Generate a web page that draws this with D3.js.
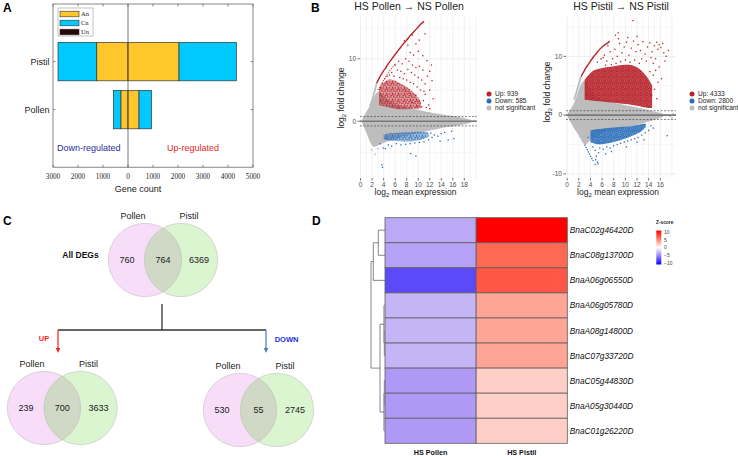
<!DOCTYPE html>
<html><head><meta charset="utf-8">
<script src="https://cdn.jsdelivr.net/npm/d3@7"></script>
<style>body{margin:0;background:#fff}svg{display:block;font-family:Arial,"Liberation Sans",sans-serif}</style>
</head><body><svg id="c" width="738" height="456"></svg>
<script>
// ================= DATA =================
// Panel A
const aCategories = ["Pistil", "Pollen"];
const aUpAn = [2040, 440];
const aUpCn = [2293, 499];
const aDownAn = [1250, 280];
const aDownCn = [1550, 305];
const aTicks = [-3000, -2000, -1000, 0, 1000, 2000, 3000, 4000, 5000];
const aLegend = ["An", "Cn", "Un"];

// Panel B  (x = log2 mean expression, y = log2 fold change)
const bTitles = ["HS Pollen \u2192 NS Pollen", "HS Pistil \u2192 NS Pistil"];
const bLegendPollen = ["Up: 939", "Down: 585", "not significant"];
const bLegendPistil = ["Up: 4333", "Down: 2800", "not significant"];
const bXTicksPollen = [0, 2, 4, 6, 8, 10, 12, 14, 16, 18];
const bXTicksPistil = [0, 2, 4, 6, 8, 10, 12, 14, 16];
const bYTicksPollen = [0, 10];
const bYTicksPistil = [-10, 0, 10];
// gray cloud envelope: [x, top, bottom]
const pollenGray = [[0.3,0.4,-0.4],[0.7,1.0,-1.2],[1.2,1.8,-2.2],[1.7,2.6,-3.6],[2.2,3.6,-4.2],[2.7,4.6,-4.0],[3.2,4.8,-3.8],[3.7,4.4,-3.6],[4.5,3.6,-3.3],[5.5,3.0,-3.0],[6.5,2.6,-2.7],[7.5,2.3,-2.4],[8.5,2.1,-2.2],[9.5,1.9,-2.0],[10.5,1.7,-1.8],[11.5,1.5,-1.6],[12.5,1.3,-1.4],[13.5,1.2,-1.2],[14.5,1.0,-1.0],[15.5,0.9,-0.9],[16.5,0.8,-0.8],[17.5,0.6,-0.6],[18.5,0.4,-0.4],[19.2,0.2,-0.2]];
const pollenGrayCurve = [[1.6,2.4],[1.9,3.1],[2.2,4.0],[2.5,5.0],[2.8,6.1]];
const pollenGrayPts = [[2.5,-5.3],[1.9,-4.6],[3.0,-4.4],[19.6,0.1]];
const pollenRedCurve = [[2.8,6.1],[3.0,6.5],[3.3,7.0],[3.6,7.5],[4.0,8.1],[4.4,8.6],[4.8,9.2],[5.2,9.7],[5.6,10.2],[6.0,10.7],[6.5,11.3],[7.0,11.9],[7.5,12.5],[8.0,13.0],[8.5,13.6],[9.0,14.1],[9.5,14.6],[10.0,15.1],[10.5,15.6],[11.0,16.0]];
const pollenRedCurve2 = [[3.0,5.0],[3.4,5.6],[3.8,6.3],[4.2,6.9],[4.6,7.5],[5.0,8.0],[5.5,8.6],[6.0,9.2]];
const pollenRedCore = [[3.2,5.2,2.6],[4.0,6.3,2.4],[5.0,6.8,2.2],[6.0,6.5,2.0],[7.0,6.0,1.9],[8.0,5.5,1.9],[9.0,4.8,2.0],[10.0,3.8,2.0],[10.5,3.0,2.1]];
const pollenRedPts = [[7.6,12.9],[8.2,12.2],[9.0,13.8],[9.6,12.4],[10.2,13.0],[11.2,14.0],[8.6,11.0],[9.2,10.6],[10.0,11.2],[10.8,10.5],[11.5,9.7],[12.3,9.0],[12.0,8.0],[11.6,7.2],[12.4,6.5],[12.0,5.0],[11.2,4.3],[12.6,3.6],[11.8,2.6],[10.9,3.3],[6.0,9.0],[6.6,9.6],[7.2,9.2],[7.8,10.0],[8.4,9.6],[9.0,9.0],[9.6,8.6],[10.2,8.8],[10.8,8.2],[6.4,8.2],[7.0,8.0],[7.6,7.6],[8.2,8.3],[8.8,7.8],[9.4,7.4],[10.0,7.0],[10.6,6.6],[11.2,6.0],[5.4,7.8],[5.8,7.2],[6.8,7.0],[7.4,6.8],[8.0,6.6],[8.6,6.2],[9.2,6.0],[9.8,5.5],[10.4,5.0],[11.0,4.8],[4.6,7.2],[4.2,6.8],[3.8,6.0],[3.5,5.4],[5.0,7.4],[9.6,4.2],[10.2,3.2],[9.0,3.0],[8.4,4.5],[7.8,4.8],[10.6,2.3],[11.4,2.2],[12.0,2.0],[9.8,2.4]];
const pollenBlueCore = [[4.0,-2.1,-2.9],[5.0,-1.9,-3.1],[6.0,-1.9,-3.2],[7.0,-1.8,-3.2],[8.0,-1.8,-3.3],[9.0,-1.7,-3.2],[10.0,-1.7,-3.1],[11.0,-1.7,-2.8],[11.8,-1.8,-2.5]];
const pollenBluePts = [[3.4,-3.6],[3.9,-4.3],[4.3,-4.4],[4.8,-3.8],[5.4,-4.0],[6.2,-3.6],[7.0,-3.8],[7.8,-3.7],[8.6,-3.6],[9.4,-3.5],[10.2,-3.4],[11.0,-3.3],[11.8,-3.0],[12.4,-2.6],[12.8,-2.2],[13.4,-2.4],[14.0,-2.0],[14.6,-1.8],[15.2,-3.0],[15.8,-1.6],[16.2,-2.8],[13.8,-3.2],[3.7,-7.0],[3.8,-7.4],[9.6,-5.6],[8.7,-5.2],[4.5,-2.8],[12.2,-1.9]];

const pistilGray = [[0.1,0.3,-0.3],[0.5,0.9,-1.1],[1.0,1.6,-1.9],[1.5,2.8,-2.8],[2.0,4.4,-3.4],[2.5,5.6,-4.4],[3.0,6.0,-5.2],[3.5,5.4,-4.8],[4.0,4.2,-4.2],[5.0,3.0,-3.6],[6.0,2.6,-3.0],[7.0,2.3,-2.7],[8.0,2.1,-2.5],[9.0,1.9,-2.3],[10.0,1.7,-2.1],[11.0,1.5,-1.9],[12.0,1.3,-1.6],[13.0,1.1,-1.4],[14.0,0.9,-1.1],[15.0,0.6,-0.8],[16.0,0.4,-0.5],[16.5,0.2,-0.3]];
const pistilGrayCurve = [[1.2,2.6],[1.5,3.6],[1.8,4.6],[2.1,5.6],[2.4,6.6]];
const pistilGrayPts = [[17.0,0.1],[17.6,-0.2],[18.2,0.2],[18.0,-0.4],[2.2,-3.6],[2.6,-4.3]];
const pistilRedCurve = [[2.4,6.6],[2.8,7.3],[3.2,8.0],[3.6,8.6],[4.0,9.2],[4.5,9.9],[5.0,10.5],[5.5,11.1],[6.0,11.6],[6.5,12.0],[7.0,12.3],[7.3,12.6]];
const pistilRedCore = [[3.0,6.0,2.6],[4.0,7.3,2.5],[5.0,7.8,2.4],[6.0,8.0,2.3],[7.0,8.2,2.2],[8.0,8.3,2.1],[9.0,8.5,2.0],[10.0,8.6,1.9],[11.0,8.6,1.8],[12.0,8.2,1.6],[13.0,7.4,1.4],[14.0,6.2,1.2],[14.6,5.0,1.2]];
const pistilRedPts = [[5.2,9.0],[5.8,9.6],[6.4,10.2],[6.8,9.2],[7.4,10.8],[7.8,9.6],[8.2,11.2],[8.6,10.0],[9.0,12.2],[9.4,10.6],[9.8,11.6],[10.2,12.4],[10.6,10.2],[11.0,11.4],[11.4,12.6],[11.8,10.8],[12.2,12.0],[12.6,11.0],[13.0,12.5],[13.4,10.4],[13.8,11.6],[14.2,12.3],[14.6,10.8],[15.0,11.8],[15.4,12.4],[15.8,12.0],[16.1,11.5],[16.4,12.2],[15.6,11.2],[16.6,10.6],[17.0,10.0],[17.4,11.0],[16.8,9.2],[15.2,9.6],[14.8,8.8],[14.4,9.8],[13.6,9.2],[12.8,9.6],[12.4,8.8],[11.6,9.4],[10.8,9.0],[10.0,9.4],[9.2,9.1],[8.4,8.8],[7.6,8.6],[6.6,8.5],[14.2,7.4],[14.8,6.8],[15.2,7.6],[15.6,5.6],[15.0,4.4],[15.8,8.2],[16.2,6.2],[14.5,3.4],[15.4,2.8],[13.6,2.0],[7.0,11.8],[6.2,9.8],[10.4,13.2],[12.0,13.4],[8.8,13.0],[11.3,16.1],[8.3,13.6],[8.75,14.0]];
const pistilBlueCore = [[4.0,-2.6,-4.6],[5.0,-2.4,-5.0],[6.0,-2.3,-5.0],[7.0,-2.2,-4.8],[8.0,-2.1,-4.6],[9.0,-2.0,-4.3],[10.0,-2.0,-4.0],[11.0,-1.9,-3.6],[12.0,-1.7,-3.2],[13.0,-1.5,-2.6],[13.5,-1.4,-2.0]];
const pistilBlueCurve = [[3.0,-5.0],[3.3,-5.6],[3.6,-6.2],[3.9,-6.8],[4.2,-7.3],[4.5,-7.8]];
const pistilBluePts = [[3.6,-3.8],[4.4,-5.4],[4.8,-6.0],[5.0,-7.0],[5.4,-6.4],[5.2,-8.0],[4.8,-8.4],[5.6,-5.6],[6.2,-5.8],[6.8,-5.4],[7.4,-5.6],[8.0,-5.2],[8.6,-5.0],[9.2,-4.8],[9.8,-4.6],[10.4,-4.4],[11.0,-4.2],[11.6,-4.0],[12.2,-3.8],[12.8,-3.4],[13.4,-3.0],[14.0,-2.6],[14.4,-1.8],[14.8,-2.2],[13.2,-4.2],[12.0,-4.6],[10.2,-5.4],[17.2,-3.5],[6.6,-6.6],[7.6,-6.2],[5.3,-8.3],[4.9,-7.6]];

// Panel C (Venn)
const vennTitles = ["All DEGs", "UP", "DOWN"];
const vennSetNames = ["Pollen", "Pistil"];
const vennPollenOnly = [760, 239, 530];
const vennShared = [764, 700, 55];
const vennPistilOnly = [6369, 3633, 2745];

// Panel D (heatmap)
const hmGenes = ["BnaC02g46420D","BnaC08g13700D","BnaA06g06550D","BnaA06g05780D","BnaA08g14800D","BnaC07g33720D","BnaC05g44830D","BnaA05g30440D","BnaC01g26220D"];
const hmSamples = ["HS Pollen", "HS Pistil"];
const hmPollen = [-3.4, -3.7, -7.1, -2.9, -2.9, -2.9, -4.0, -4.0, -4.0];
const hmPistil = [10, 5.7, 6.5, 3.4, 3.4, 3.4, 1.8, 1.8, 1.8];
const hmLegendTicks = [10, 5, 0, -5, -10];
// dendrogram merges: [left node, right node, height]; leaves 0-8, merges numbered from 9
const hmMerges = [[0,1,6.7],[9,2,11.7],[4,5,0.6],[3,11,1.0],[6,7,0.6],[13,8,1.0],[12,14,5.0],[10,15,14.0]];

// ================= DRAW =================
const svg = d3.select("#c");
const defs = svg.append("defs");
const txt = (g, x, y, s, size, opts = {}) => {
  const t = g.append("text").attr("x", x).attr("y", y).text(s).attr("font-size", size)
    .attr("fill", opts.fill || "#222").attr("text-anchor", opts.anchor || "start");
  if (opts.weight) t.attr("font-weight", opts.weight);
  if (opts.family) t.attr("font-family", opts.family);
  if (opts.style) t.attr("font-style", opts.style);
  return t;
};
[["A",3,12],["B",311,12],["C",3,225],["D",312,225]].forEach(d => txt(svg, d[1], d[2], d[0], 12, {weight:"bold", fill:"#000"}));

// ---------- Panel A ----------
(function () {
  const g = svg.append("g");
  const x = d3.scaleLinear().domain([-3000, 5000]).range([53, 253]);
  const y = d3.scaleLinear().domain([-1.2, 2.2]).range([4, 167.2]);
  const col = { An: "#ffc72c", Cn: "#00c9ff", Un: "#2a0505" };
  aCategories.forEach((c, i) => {
    const segs = [
      [-(aDownAn[i] + aDownCn[i]), -aDownAn[i], col.Cn],
      [-aDownAn[i], 0, col.An],
      [0, aUpAn[i], col.An],
      [aUpAn[i], aUpAn[i] + aUpCn[i], col.Cn]];
    segs.forEach(s => g.append("rect").attr("x", x(s[0])).attr("width", x(s[1]) - x(s[0]))
      .attr("y", y(i - 0.4)).attr("height", y(i + 0.4) - y(i - 0.4))
      .attr("fill", s[2]).attr("stroke", "#333").attr("stroke-width", 0.7));
    [x.range()[0], x.range()[1]].forEach((px, k) => g.append("line").attr("x1", px).attr("x2", px + (k ? -2.5 : 2.5))
      .attr("y1", y(i)).attr("y2", y(i)).attr("stroke", "#444").attr("stroke-width", 0.6));
    txt(g, 49.5, y(i) + 3.2, c, 9, { anchor: "end" });
  });
  g.append("line").attr("x1", x(0)).attr("x2", x(0)).attr("y1", 4).attr("y2", 167.2).attr("stroke", "#555").attr("stroke-width", 0.8);
  g.append("rect").attr("x", 53).attr("y", 4).attr("width", 200).attr("height", 163.2).attr("fill", "none").attr("stroke", "#555").attr("stroke-width", 0.7);
  aTicks.forEach(t => {
    g.append("line").attr("x1", x(t)).attr("x2", x(t)).attr("y1", 167.2).attr("y2", 164.7).attr("stroke", "#444").attr("stroke-width", 0.6);
    g.append("line").attr("x1", x(t)).attr("x2", x(t)).attr("y1", 4).attr("y2", 6.5).attr("stroke", "#444").attr("stroke-width", 0.6);
    txt(g, x(t), 179, Math.abs(t), 7.2, { anchor: "middle", family: "'Liberation Serif','Times New Roman',serif" });
  });
  txt(g, 138, 192, "Gene count", 9, { anchor: "middle" });
  txt(g, 57, 151, "Down-regulated", 9, { fill: "#2b2b96" });
  txt(g, 167, 151, "Up-regulated", 9, { fill: "#e41f26" });
  g.append("rect").attr("x", 58).attr("y", 8).attr("width", 35).attr("height", 28).attr("fill", "#fff").attr("stroke", "#999").attr("stroke-width", 0.6);
  aLegend.forEach((k, i) => {
    const cy = 14 + i * 9;
    g.append("rect").attr("x", 60).attr("y", cy - 2.8).attr("width", 19).attr("height", 5.6).attr("fill", col[k]).attr("stroke", "#333").attr("stroke-width", 0.6);
    txt(g, 81, cy + 2.3, k, 6.5, { family: "'Liberation Serif','Times New Roman',serif" });
  });
})();

// ---------- Panel B ----------
const RED = "#b8232b", BLUE = "#2a6ebb", GRAY = "#bdbdbd";
function speckle(id, color, bgOpacity, size, dots) {
  const p = defs.append("pattern").attr("id", id).attr("patternUnits", "userSpaceOnUse").attr("width", size).attr("height", size);
  p.append("rect").attr("width", size).attr("height", size).attr("fill", color).attr("opacity", bgOpacity);
  dots.forEach(d => p.append("rect").attr("x", d[0]).attr("y", d[1]).attr("width", 1.3).attr("height", 1.3).attr("fill", color));
}
const sparseDots = [[0.3,0.5],[3.1,0.2],[1.8,2.6],[4.6,3.3],[0.6,4.8],[3.3,5.5],[5.4,0.9],[2.2,4.2]];
const denseDots = [[0.2,0.3],[2.3,0.1],[4.1,0.8],[1.1,2.1],[3.2,2.4],[0.1,4.0],[2.0,3.9],[4.3,3.2],[1.4,5.4],[3.6,4.8],[5.2,2.0],[5.0,5.1]];
speckle("redSparse", RED, 0.45, 6, sparseDots);
speckle("redDense", RED, 0.8, 6, denseDots);
speckle("blueSparse", BLUE, 0.45, 6, sparseDots);
speckle("blueDense", BLUE, 0.75, 6, denseDots);

function drawMA(cfg) {
  const g = svg.append("g");
  const x = d3.scaleLinear().domain(cfg.xDom).range(cfg.xRange);
  const y = d3.scaleLinear().domain(cfg.yDom).range([178, 17]);
  const id = "clip" + cfg.id;
  defs.append("clipPath").attr("id", id).append("rect").attr("x", cfg.xRange[0]).attr("y", 17)
    .attr("width", cfg.xRange[1] - cfg.xRange[0]).attr("height", 161);
  const p = g.append("g").attr("clip-path", `url(#${id})`);
  for (let i = Math.ceil(cfg.xDom[0]); i <= Math.floor(cfg.xDom[1]); i++)
    p.append("line").attr("x1", x(i)).attr("x2", x(i)).attr("y1", 17).attr("y2", 178)
      .attr("stroke", i % 2 === 0 ? "#e4e4e4" : "#f1f1f1").attr("stroke-width", 0.6);
  for (let j = Math.ceil(cfg.yDom[0] / 5) * 5; j <= cfg.yDom[1]; j += 5)
    p.append("line").attr("x1", cfg.xRange[0]).attr("x2", cfg.xRange[1]).attr("y1", y(j)).attr("y2", y(j))
      .attr("stroke", j % 10 === 0 ? "#e4e4e4" : "#f1f1f1").attr("stroke-width", 0.6);
  const area = d3.area().x(d => x(d[0])).y1(d => y(d[1])).y0(d => y(d[2])).curve(d3.curveBasis);
  const line = d3.line().x(d => x(d[0])).y(d => y(d[1])).curve(d3.curveMonotoneX);
  p.append("path").attr("d", area(cfg.gray)).attr("fill", GRAY);
  p.append("path").attr("d", line(cfg.grayCurve)).attr("fill", "none").attr("stroke", GRAY).attr("stroke-width", 1.8);
  p.selectAll(null).data(cfg.grayPts).join("circle").attr("cx", d => x(d[0])).attr("cy", d => y(d[1])).attr("r", 0.9).attr("fill", GRAY);
  p.append("path").attr("d", area(cfg.redCore)).attr("fill", `url(#${cfg.redFill})`);
  p.append("path").attr("d", area(cfg.blueCore)).attr("fill", `url(#${cfg.blueFill})`);
  p.append("path").attr("d", line(cfg.redCurve)).attr("fill", "none").attr("stroke", RED).attr("stroke-width", 1.4);
  if (cfg.redCurve2) p.append("path").attr("d", line(cfg.redCurve2)).attr("fill", "none").attr("stroke", RED).attr("stroke-width", 0.9).attr("stroke-dasharray", "1.5,1");
  if (cfg.blueCurve) p.append("path").attr("d", line(cfg.blueCurve)).attr("fill", "none").attr("stroke", BLUE).attr("stroke-width", 1.2).attr("stroke-dasharray", "1.5,1");
  p.selectAll(null).data(cfg.redPts).join("rect").attr("x", d => x(d[0]) - 0.65).attr("y", d => y(d[1]) - 0.65).attr("width", 1.3).attr("height", 1.3).attr("fill", RED);
  p.selectAll(null).data(cfg.bluePts).join("rect").attr("x", d => x(d[0]) - 0.65).attr("y", d => y(d[1]) - 0.65).attr("width", 1.3).attr("height", 1.3).attr("fill", BLUE);
  p.append("line").attr("x1", cfg.xRange[0]).attr("x2", cfg.xRange[1]).attr("y1", y(0)).attr("y2", y(0)).attr("stroke", "#7a7a7a").attr("stroke-width", 1.6);
  [-0.75, 0.75].forEach(v => p.append("line").attr("x1", cfg.xRange[0]).attr("x2", cfg.xRange[1]).attr("y1", y(v)).attr("y2", y(v))
    .attr("stroke", "#333").attr("stroke-width", 0.6).attr("stroke-dasharray", "2,1.5"));
  cfg.yTicks.forEach(t => {
    g.append("line").attr("x1", cfg.xRange[0] - 2.5).attr("x2", cfg.xRange[0]).attr("y1", y(t)).attr("y2", y(t)).attr("stroke", "#333").attr("stroke-width", 0.7);
    txt(g, cfg.xRange[0] - 4, y(t) + 2.3, t, 6.5, { anchor: "end", fill: "#4d4d4d" });
  });
  cfg.xTicks.forEach(t => {
    g.append("line").attr("x1", x(t)).attr("x2", x(t)).attr("y1", 178).attr("y2", 180.5).attr("stroke", "#333").attr("stroke-width", 0.7);
    txt(g, x(t), 187, t, 6.5, { anchor: "middle", fill: "#4d4d4d" });
  });
  const xl = txt(g, (cfg.xRange[0] + cfg.xRange[1]) / 2 - 3, 195, "", 8.5, { anchor: "middle" });
  xl.append("tspan").text("log");
  xl.append("tspan").text("2").attr("font-size", 6).attr("dy", 2);
  xl.append("tspan").text(" mean expression").attr("dy", -2);
  const yl = g.append("text").attr("transform", `translate(${cfg.xRange[0] - 16},${cfg.yLabelY}) rotate(-90)`)
    .attr("text-anchor", "middle").attr("font-size", 8.5).attr("fill", "#222");
  yl.append("tspan").text("log");
  yl.append("tspan").text("2").attr("font-size", 6).attr("dy", 2);
  yl.append("tspan").text(" fold change").attr("dy", -2);
  txt(g, cfg.titleX, 10, cfg.title, 10.5, { anchor: "middle" });
  [RED, BLUE, GRAY].forEach((c, i) => {
    g.append("circle").attr("cx", cfg.legX).attr("cy", 94 + i * 7).attr("r", 2.5).attr("fill", c);
    txt(g, cfg.legX + 6, 96.3 + i * 7, cfg.legend[i], 6.6, { fill: "#222" });
  });
}
drawMA({ id: "L", xDom: [-0.1, 20.2], xRange: [360, 477], yDom: [-9.1, 16.7], gray: pollenGray, grayCurve: pollenGrayCurve, grayPts: pollenGrayPts,
  redCurve: pollenRedCurve, redCurve2: pollenRedCurve2, redCore: pollenRedCore, redPts: pollenRedPts, blueCore: pollenBlueCore, bluePts: pollenBluePts,
  redFill: "redSparse", blueFill: "blueSparse", yTicks: bYTicksPollen, xTicks: bXTicksPollen, title: bTitles[0], titleX: 409, legend: bLegendPollen, legX: 489, yLabelY: 98 });
drawMA({ id: "R", xDom: [-0.2, 18.7], xRange: [566, 676], yDom: [-10.7, 16.7], gray: pistilGray, grayCurve: pistilGrayCurve, grayPts: pistilGrayPts,
  redCurve: pistilRedCurve, redCore: pistilRedCore, redPts: pistilRedPts, blueCore: pistilBlueCore, bluePts: pistilBluePts, blueCurve: pistilBlueCurve,
  redFill: "redDense", blueFill: "blueDense", yTicks: bYTicksPistil, xTicks: bXTicksPistil, title: bTitles[1], titleX: 621, legend: bLegendPistil, legX: 692, yLabelY: 92 });

// ---------- Panel C ----------
(function () {
  const g = svg.append("g");
  const layout = [{ c1: [145, 260], c2: [181, 260] }, { c1: [44, 408], c2: [80.5, 408] }, { c1: [240, 410], c2: [277, 410] }];
  const r = 36.7;
  layout.forEach((L, i) => {
    const cid = "vclip" + i;
    defs.append("clipPath").attr("id", cid).append("circle").attr("cx", L.c1[0]).attr("cy", L.c1[1]).attr("r", r);
    g.append("circle").attr("cx", L.c1[0]).attr("cy", L.c1[1]).attr("r", r).attr("fill", "#f7ddf8");
    g.append("circle").attr("cx", L.c2[0]).attr("cy", L.c2[1]).attr("r", r).attr("fill", "#daf5cf");
    g.append("circle").attr("cx", L.c2[0]).attr("cy", L.c2[1]).attr("r", r).attr("fill", "#cfd9c5").attr("clip-path", `url(#${cid})`);
    [L.c1, L.c2].forEach(c => g.append("circle").attr("cx", c[0]).attr("cy", c[1]).attr("r", r).attr("fill", "none").attr("stroke", "#b8b8b8").attr("stroke-width", 0.5));
    txt(g, L.c1[0] - 18, L.c1[1] + 3.2, vennPollenOnly[i], 9, { anchor: "middle" });
    txt(g, (L.c1[0] + L.c2[0]) / 2, L.c1[1] + 3.2, vennShared[i], 9, { anchor: "middle" });
    txt(g, L.c2[0] + 18, L.c1[1] + 3.2, vennPistilOnly[i], 9, { anchor: "middle" });
    txt(g, L.c1[0] - 12, L.c1[1] - r - 4, vennSetNames[0], 9, { anchor: "middle" });
    txt(g, L.c2[0] + 8, L.c1[1] - r - 4, vennSetNames[1], 9, { anchor: "middle" });
  });
  txt(g, 80.5, 258, vennTitles[0], 8.5, { anchor: "middle", weight: "bold", fill: "#111" });
  g.append("line").attr("x1", 162).attr("x2", 162).attr("y1", 304).attr("y2", 330).attr("stroke", "#333").attr("stroke-width", 1.3);
  g.append("line").attr("x1", 58).attr("x2", 266).attr("y1", 330).attr("y2", 330).attr("stroke", "#333").attr("stroke-width", 1.3);
  [[58, "#ff1a1a"], [266, "#4a78c8"]].forEach(a => {
    g.append("line").attr("x1", a[0]).attr("x2", a[0]).attr("y1", 330).attr("y2", 349).attr("stroke", a[1]).attr("stroke-width", 1.2);
    g.append("path").attr("d", `M${a[0] - 2.2},348 L${a[0] + 2.2},348 L${a[0]},353 Z`).attr("fill", a[1]);
  });
  txt(g, 44, 341, vennTitles[1], 7.5, { anchor: "middle", weight: "bold", fill: "#ff1a1a" });
  txt(g, 286.5, 342, vennTitles[2], 7.5, { anchor: "middle", weight: "bold", fill: "#2233dd" });
})();

// ---------- Panel D ----------
(function () {
  const g = svg.append("g");
  const x0 = 385, x1 = 567.3, y0 = 217.7, y1 = 443.3;
  const xs = d3.scaleBand().domain(hmSamples).range([x0, x1]);
  const ys = d3.scaleBand().domain(hmGenes).range([y0, y1]);
  const color = d3.scaleLinear().domain([-10, -5, 0, 5, 10]).range(["#0000ff", "#9b80f2", "#ffffff", "#ff7b63", "#ff0000"]);
  const cells = [];
  hmGenes.forEach((gn, i) => { cells.push({ s: hmSamples[0], g: gn, v: hmPollen[i] }); cells.push({ s: hmSamples[1], g: gn, v: hmPistil[i] }); });
  g.selectAll(null).data(cells).join("rect").attr("x", d => xs(d.s)).attr("y", d => ys(d.g))
    .attr("width", xs.bandwidth()).attr("height", ys.bandwidth()).attr("fill", d => color(d.v))
    .attr("stroke", "#5e5e5e").attr("stroke-width", 0.8);
  hmGenes.forEach(gn => txt(g, x1 + 2.5, ys(gn) + ys.bandwidth() / 2 + 3, gn, 8.3, { style: "italic", fill: "#111" }));
  hmSamples.forEach(s => txt(g, xs(s) + xs.bandwidth() / 2, 455, s, 7.2, { anchor: "middle", weight: "bold", fill: "#111" }));
  const nodes = hmGenes.map(gn => ({ y: ys(gn) + ys.bandwidth() / 2, h: 0 }));
  const hx = h => x0 - h;
  hmMerges.forEach(m => {
    const a = nodes[m[0]], b = nodes[m[1]], h = m[2];
    const col = h < 2 ? "#8a8a8a" : "#555";
    const w = h < 2 ? 1.2 : 0.7;
    [a, b].forEach(n => g.append("line").attr("x1", hx(n.h)).attr("x2", hx(h)).attr("y1", n.y).attr("y2", n.y).attr("stroke", col).attr("stroke-width", w));
    g.append("line").attr("x1", hx(h)).attr("x2", hx(h)).attr("y1", a.y).attr("y2", b.y).attr("stroke", col).attr("stroke-width", w);
    nodes.push({ y: (a.y + b.y) / 2, h: h });
  });
  const grad = defs.append("linearGradient").attr("id", "zgrad").attr("x1", 0).attr("x2", 0).attr("y1", 0).attr("y2", 1);
  d3.range(0, 1.001, 0.1).forEach(t => grad.append("stop").attr("offset", t).attr("stop-color", color(10 - 20 * t)));
  const ly = d3.scaleLinear().domain([10, -10]).range([232.3, 262.7]);
  g.append("rect").attr("x", 656.3).attr("y", 230.5).attr("width", 5).attr("height", 34).attr("fill", "url(#zgrad)");
  hmLegendTicks.forEach(t => txt(g, 664, ly(t) + 1.8, t === 0 ? "0" : (t < 0 ? "\u2212" + Math.abs(t) : t), 5, { fill: "#444" }));
  txt(g, 656, 224, "Z-score", 4.8, { weight: "bold", fill: "#222" });
})();
</script></body></html>
